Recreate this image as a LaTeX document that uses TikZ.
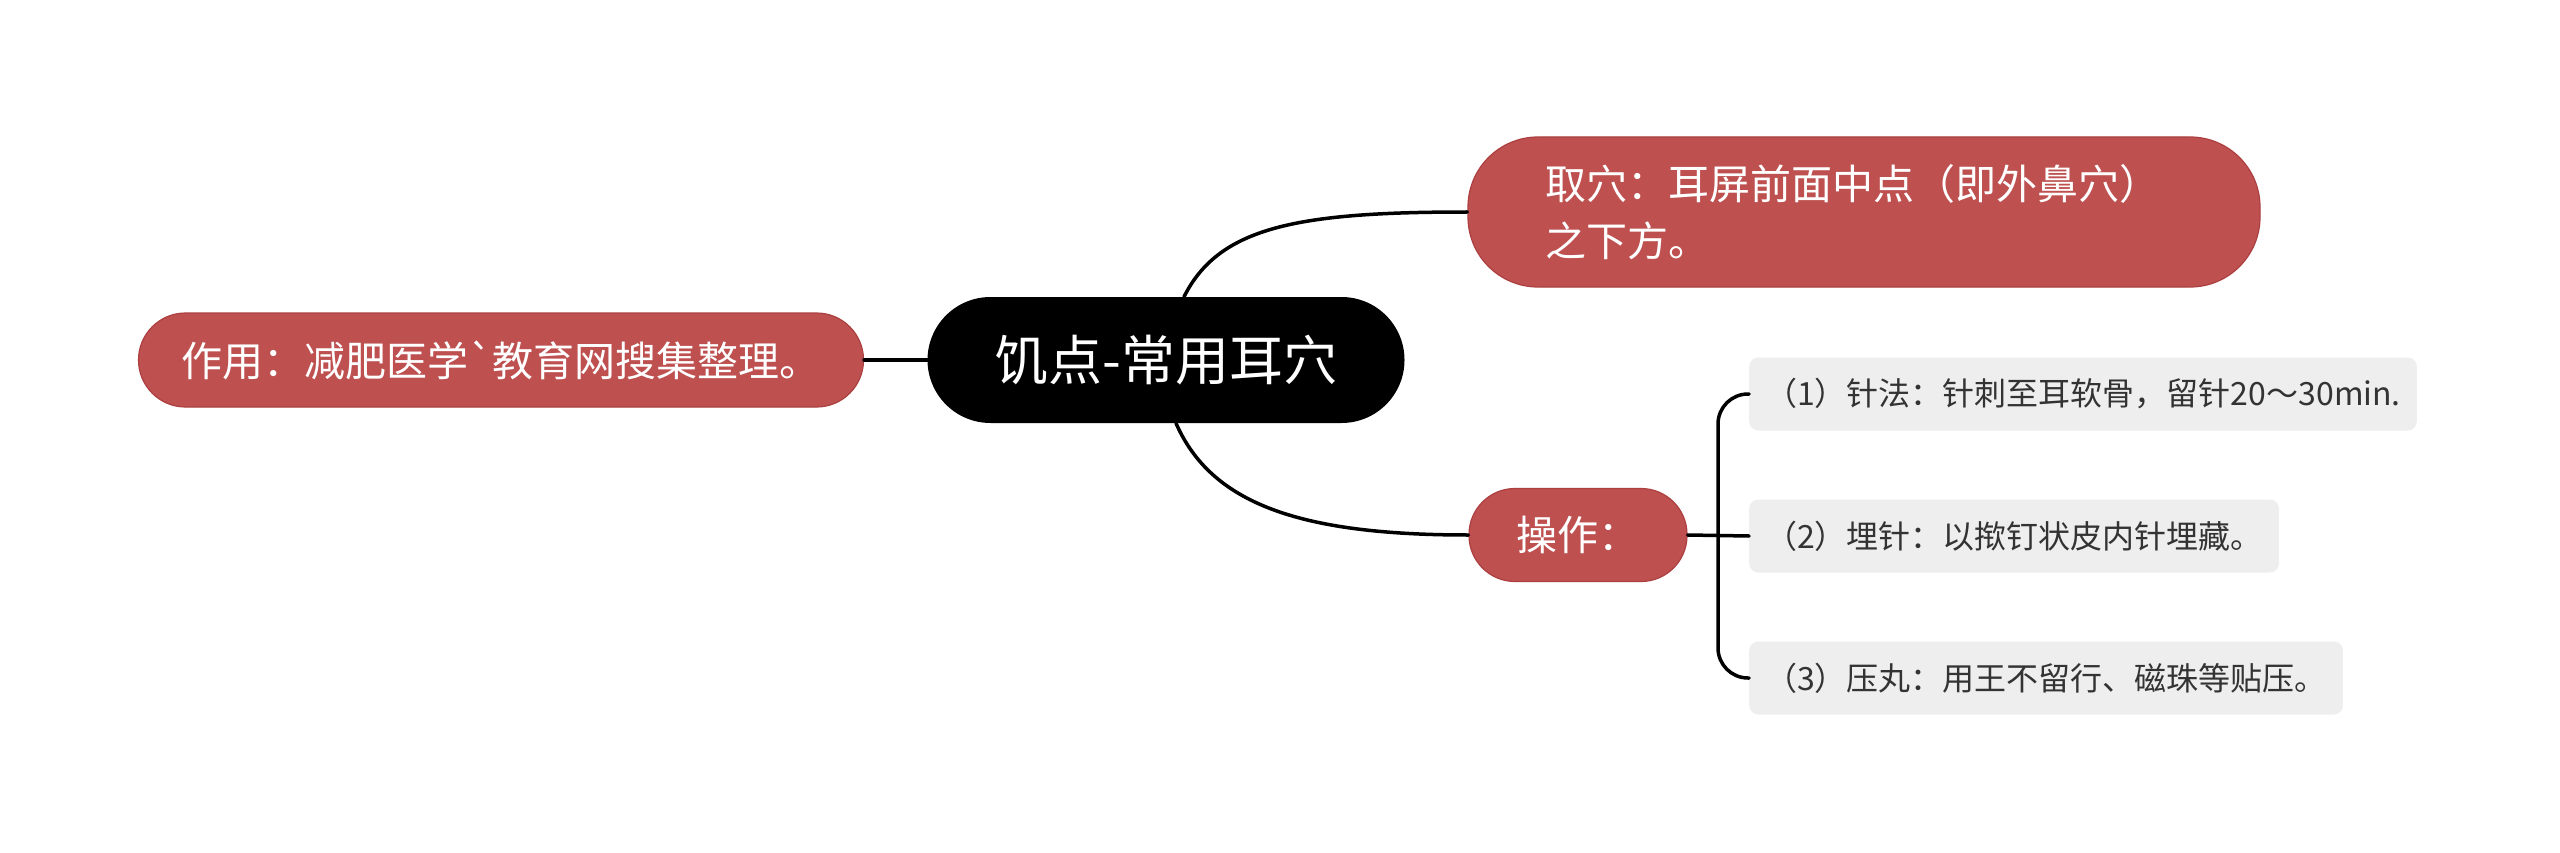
\documentclass[tikz,border=0pt]{standalone}
\usepackage{fontspec}
\setmainfont{Noto Sans CJK SC}[Ligatures=TeXOff]
\definecolor{redfill}{RGB}{190,80,80}
\definecolor{redline}{RGB}{172,64,64}
\definecolor{grayfill}{RGB}{238,238,238}
\definecolor{graytext}{RGB}{51,51,51}
\tikzset{
  rootbox/.style={fill=black, text=white, minimum width=477pt, minimum height=126pt, rounded corners=63pt, inner sep=0pt, font=\fontsize{54}{60}\selectfont},
  redbox/.style={fill=redfill, draw=redline, line width=1.2pt, text=white, inner sep=0pt, font=\fontsize{41}{57}\selectfont},
  graybox/.style={fill=grayfill, text=graytext, rounded corners=9pt, minimum height=73pt, inner xsep=16pt, inner ysep=0pt, anchor=west, font=\fontsize{32}{40}\selectfont},
  conn/.style={draw=black, line width=3.5pt, line cap=round}
}
\begin{document}
\begin{tikzpicture}[x=1pt,y=-1pt]
\useasboundingbox (0,0) rectangle (2560,853);
\node[rootbox] (c) at (1166,360) {饥点-常用耳穴};
\node[redbox, minimum width=725pt, minimum height=94pt, rounded corners=47pt] (l) at (501,360) {作用：减肥医学`教育网搜集整理。};
\node[redbox, minimum width=792pt, minimum height=150pt, rounded corners=70pt, text width=638pt, inner xsep=77pt, align=left] (t) at (1864,212) {取穴：耳屏前面中点（即外鼻穴）\\之下方。};
\node[redbox, minimum width=218pt, minimum height=93pt, rounded corners=46pt] (o) at (1578,535) {操作：};
\node[graybox] (k1) at (1749,394) {（1）针法：针刺至耳软骨，留针20～30min.};
\node[graybox] (k2) at (1749,536) {（2）埋针：以揿钉状皮内针埋藏。};
\node[graybox] (k3) at (1749,678) {（3）压丸：用王不留行、磁珠等贴压。};
\draw[conn] (c.west) -- (l.east);
\draw[conn] ([xshift=18pt]c.north) .. controls +(35,-70) and +(-170,0) .. (t.west);
\draw[conn] ([xshift=10pt]c.south) .. controls +(35,80) and +(-170,0) .. (o.west);
\draw[conn] (o.east) -- (k2.west);
\draw[conn, rounded corners=30pt] (k1.west) -- ([xshift=-31pt]k1.west) |- (k3.west);
\end{tikzpicture}
\end{document}
